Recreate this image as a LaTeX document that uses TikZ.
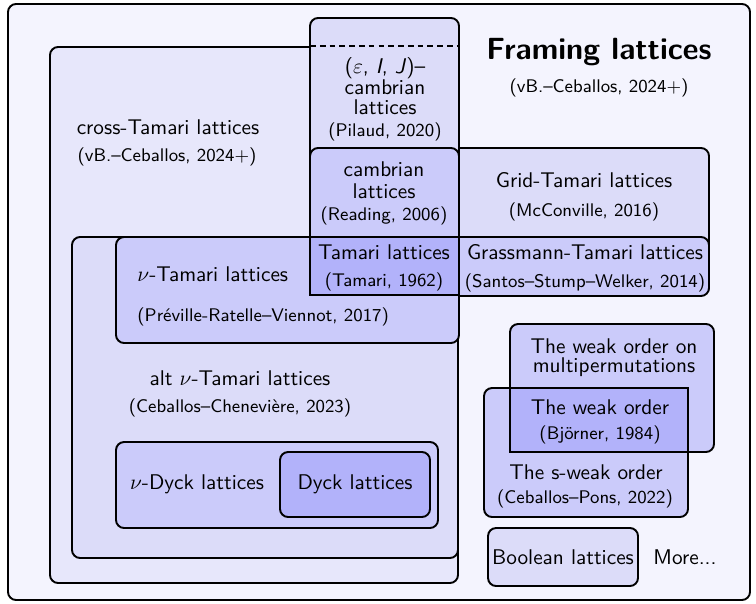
\documentclass[tikz,border=0pt]{standalone}
\renewcommand\familydefault{\sfdefault}
\definecolor{cA}{HTML}{F4F4FE}
\definecolor{cB}{HTML}{E7E7FB}
\definecolor{cC}{HTML}{DCDCF9}
\definecolor{cD}{HTML}{CBCBFA}
\definecolor{cE}{HTML}{B2B2FA}
\tikzset{
  lbox/.style={draw=black, line width=0.9pt, rounded corners=3.8pt},
  sbox/.style={draw=black, line width=0.9pt},
  ttl/.style={inner sep=0pt, font=\normalsize},
  sub/.style={inner sep=0pt, font=\fontsize{8.6}{10}\selectfont},
}
\begin{document}
\begin{tikzpicture}[x=0.47pt, y=-0.47pt]
\useasboundingbox (0,0) rectangle (756,603);
% outer frame
\draw[lbox, fill=cA] (8,4) rectangle (750,600);
% cross-Tamari
\draw[lbox, fill=cB] (50,47) rectangle (458,583);
% alt nu-Tamari
\draw[lbox, fill=cC] (72,237) rectangle (458,558);
% Grid-Tamari and Grassmann
\draw[lbox, fill=cC] (440,148) rectangle (709,295);
\draw[lbox, fill=cD] (440,237) rectangle (709,296);
% (eps,I,J)-cambrian
\draw[lbox, fill=cC] (310,18) rectangle (459,295);
\draw[line width=0.9pt, dash pattern=on 2.7pt off 1.9pt] (310,46) -- (459,46);
% cambrian
\draw[lbox, fill=cD] (310,148) rectangle (459,295);
% nu-Tamari
\draw[lbox, fill=cD] (116,237) rectangle (459,343);
% Tamari
\draw[sbox, fill=cE] (310,237) rectangle (459,295);
% nu-Dyck, Dyck
\draw[lbox, fill=cD] (116,442) rectangle (438,528);
\draw[lbox, fill=cE] (280,452) rectangle (430,517);
% weak orders
\draw[lbox, fill=cD] (510,324) rectangle (714,452);
\draw[lbox, fill=cD] (484,388) rectangle (688,517);
\draw[sbox, fill=cE] (510,388) rectangle (688,452);
% Boolean
\draw[lbox, fill=cC] (488,528) rectangle (638,586);

% texts
\node[inner sep=0pt, font=\Large\bfseries] (title) at (599,52) {Framing lattices};
\node[sub] (titlesub) at (599,88) {(vB.--Ceballos, 2024+)};

\node[ttl] (cross) at (168,127) {cross-Tamari lattices};
\node[sub] (crosssub) at (167,157) {(vB.--Ceballos, 2024+)};

\node[ttl] (eps1) at (385,68) {($\varepsilon$, \textit{I}, \textit{J})--};
\node[ttl] (eps2) at (385,87) {cambrian};
\node[ttl] (eps3) at (385,107) {lattices};
\node[sub] (epssub) at (385,132) {(Pilaud, 2020)};

\node[ttl] (camb1) at (384,169) {cambrian};
\node[ttl] (camb2) at (384,191) {lattices};
\node[sub] (cambsub) at (384,216) {(Reading, 2006)};

\node[ttl] (tam) at (384,252) {Tamari lattices};
\node[sub] (tamsub) at (384,282) {(Tamari, 1962)};

\node[ttl] (grid) at (584,180) {Grid-Tamari lattices};
\node[sub] (gridsub) at (584,212) {(McConville, 2016)};

\node[ttl] (grass) at (585,252) {Grassmann-Tamari lattices};
\node[sub] (grasssub) at (585,283) {(Santos--Stump--Welker, 2014)};

\node[ttl, anchor=west] (nutam) at (137,274) {$\nu$-Tamari lattices};
\node[sub, anchor=west] (nutamsub) at (137,317) {(Préville-Ratelle--Viennot, 2017)};

\node[ttl] (alt) at (240,378) {alt $\nu$-Tamari lattices};
\node[sub] (altsub) at (240,408) {(Ceballos--Chenevière, 2023)};

\node[ttl] (nudyck) at (197,484) {$\nu$-Dyck lattices};
\node[ttl] (dyck) at (355,484) {Dyck lattices};

\node[ttl, align=center, font=\fontsize{10}{8.9}\selectfont] (multi) at (614,358) {The weak order on\\multipermutations};

\node[ttl] (weak) at (600,407) {The weak order};
\node[sub] (weaksub) at (600,435) {(Björner, 1984)};

\node[ttl] (sweak) at (586,472) {The s-weak order};
\node[sub] (sweaksub) at (585,499) {(Ceballos--Pons, 2022)};

\node[ttl] (bool) at (563,557) {Boolean lattices};
\node[ttl] (more) at (685,557) {More...};
\end{tikzpicture}
\end{document}
